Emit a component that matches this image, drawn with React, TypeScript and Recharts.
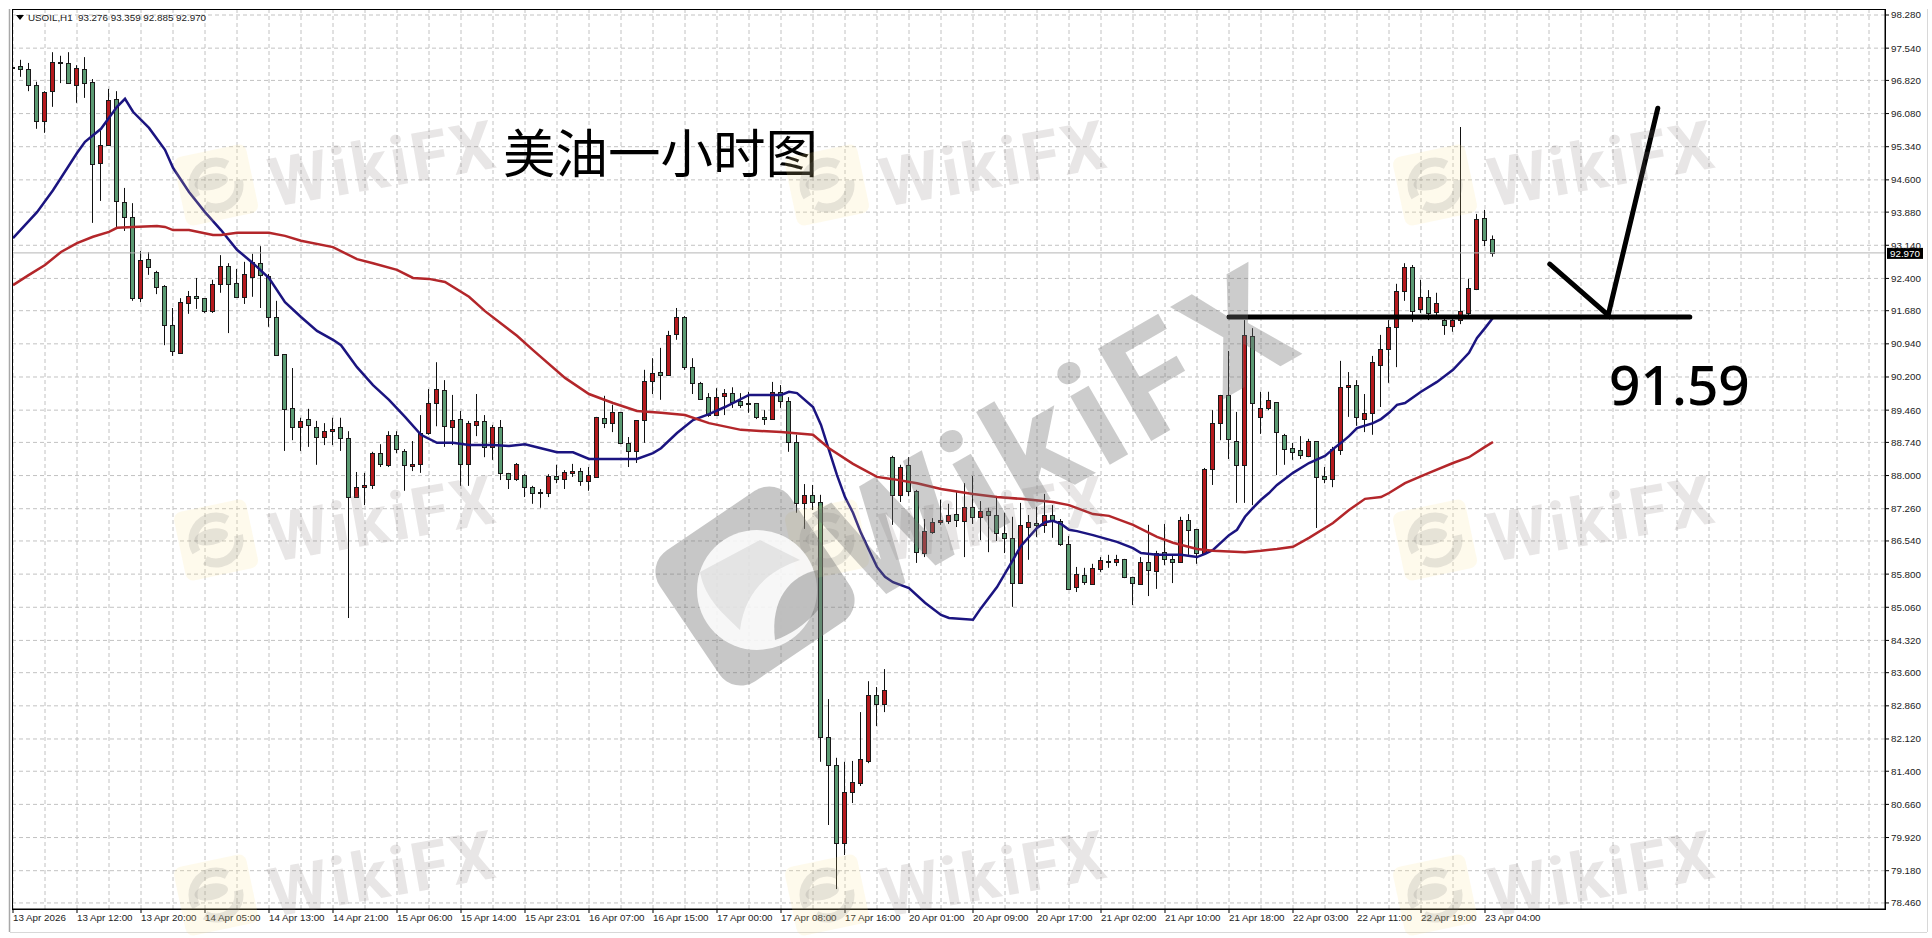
import { Bar, CartesianGrid, ComposedChart, Line, ReferenceLine, XAxis, YAxis } from "recharts";

const opens = [
  97.11,97.14,97.08,96.72,95.91,96.58,97.21,97.21,96.72,97.08,
  96.79,94.98,95.38,96.41,94.11,93.77,91.96,92.83,92.54,92.23,
  91.36,90.74,91.85,92.01,91.96,91.67,92.28,92.68,92.30,91.99,
  92.43,92.74,92.45,91.54,90.71,89.51,89.08,89.26,89.08,88.86,
  88.99,89.08,88.84,87.52,87.74,87.79,88.50,88.24,88.91,88.55,
  88.22,88.26,88.95,89.62,89.91,89.08,89.26,88.26,89.13,89.22,
  88.64,89.08,88.06,87.92,88.01,87.74,87.61,87.61,87.99,87.92,
  88.06,88.10,87.88,87.97,89.29,89.17,89.42,88.73,88.55,89.24,
  90.11,90.31,90.24,91.16,91.54,90.42,90.07,89.75,89.35,89.78,
  89.84,89.66,89.63,89.62,89.31,89.26,89.87,89.66,88.75,87.39,
  87.57,87.41,82.16,81.54,79.80,80.94,81.14,81.63,83.10,82.90,
  88.41,87.57,88.24,87.66,86.27,86.74,86.97,86.99,87.14,86.99,
  87.30,87.07,87.21,87.12,86.72,86.61,85.60,86.85,86.94,86.90,
  87.12,86.99,86.47,85.51,85.78,85.58,85.91,86.08,86.07,86.14,
  85.74,85.58,86.07,85.87,86.29,86.14,86.07,87.01,86.81,86.27,
  88.15,89.17,89.80,88.77,88.24,91.12,89.31,89.51,89.64,88.91,
  88.61,88.57,88.44,88.77,87.99,87.92,88.57,89.98,90.02,89.26,
  89.40,90.47,90.82,91.32,92.12,92.66,91.72,91.99,91.65,91.47,
  91.34,91.47,91.63,92.17,93.75,93.276,
];
const closes = [
  97.13,97.08,96.72,95.91,96.56,97.23,97.23,96.76,97.10,96.76,
  94.95,95.38,96.38,94.13,93.77,91.96,92.81,92.66,92.21,91.36,
  90.78,91.87,92.01,91.96,91.67,92.28,92.68,92.28,91.99,92.50,
  92.77,92.48,91.54,90.69,89.49,89.08,89.22,89.13,88.86,88.99,
  89.04,88.84,87.52,87.74,87.79,88.50,88.26,88.91,88.59,88.24,
  88.26,88.95,89.62,89.93,89.10,89.24,88.26,89.17,89.22,88.64,
  89.08,88.06,87.92,88.26,87.74,87.61,87.63,87.99,87.92,88.08,
  88.10,87.88,88.01,89.31,89.17,89.42,88.73,88.55,89.24,90.11,
  90.29,90.24,91.14,91.54,90.42,90.07,89.71,89.35,89.75,89.84,
  89.64,89.58,89.61,89.31,89.26,89.87,89.66,88.75,87.39,87.57,
  87.41,82.16,81.54,79.80,80.94,81.16,81.67,83.10,82.90,83.21,
  87.57,88.19,87.66,86.29,86.76,86.96,87.00,87.12,87.01,87.30,
  87.07,87.21,87.12,86.72,86.61,85.60,86.90,86.96,86.90,87.12,
  86.99,86.47,85.47,85.80,85.63,85.94,86.11,86.10,86.14,85.74,
  85.60,86.07,85.89,86.27,86.14,86.07,87.01,86.79,86.27,88.15,
  89.17,89.80,88.82,88.24,91.14,89.62,89.51,89.69,88.97,88.59,
  88.52,88.46,88.77,87.97,87.92,88.59,89.98,90.02,89.31,89.40,
  90.53,90.82,91.32,92.12,92.66,91.67,91.99,91.63,91.85,91.36,
  91.47,91.67,92.19,93.73,93.26,92.97,
];
const highs = [
  97.37,97.28,97.21,96.79,96.58,97.45,97.37,97.45,97.16,97.34,
  96.85,95.71,96.63,96.58,94.42,94.08,93.01,92.99,92.57,92.25,
  91.74,91.96,92.12,92.41,91.96,92.37,92.92,92.74,92.61,92.77,
  92.95,93.12,92.50,91.90,90.71,90.40,89.29,89.49,89.22,89.17,
  89.29,89.29,88.99,88.08,88.06,88.53,88.70,88.99,88.99,88.59,
  88.77,89.35,89.93,90.53,90.13,89.80,89.44,89.22,89.82,89.35,
  89.13,89.24,88.06,88.28,88.03,87.77,87.70,88.03,88.24,88.12,
  88.26,88.17,88.19,89.31,89.78,89.58,89.42,88.86,89.24,90.36,
  90.62,90.85,91.23,91.74,91.56,90.62,90.09,89.84,89.95,89.93,
  89.97,89.84,89.87,89.62,89.46,90.09,90.02,89.75,88.91,87.81,
  87.79,87.57,83.01,81.70,81.61,81.63,82.72,83.41,83.28,83.68,
  88.44,88.24,88.41,87.68,87.03,87.05,87.46,87.37,87.63,87.83,
  87.99,87.43,87.28,87.52,87.17,87.08,87.39,87.12,87.30,87.59,
  87.34,87.03,86.65,85.96,85.94,86.03,86.18,86.23,86.23,86.14,
  85.74,86.18,86.90,86.32,86.92,86.23,87.08,87.14,86.81,88.17,
  89.46,89.80,90.78,89.42,91.47,91.29,89.87,89.87,89.64,88.93,
  88.73,88.88,88.82,88.77,88.19,88.64,90.56,90.31,90.13,89.82,
  90.67,91.14,91.47,92.28,92.74,92.70,92.37,92.14,92.08,91.58,
  91.58,95.78,92.39,93.84,93.93,93.359,
];
const lows = [
  97.03,96.90,96.58,95.74,95.65,96.23,96.76,96.74,96.32,96.43,
  93.64,94.13,95.36,93.53,93.46,91.90,91.87,92.48,92.05,90.91,
  90.67,90.74,91.61,91.72,91.63,91.63,92.08,91.18,91.99,91.83,
  91.99,91.74,91.32,90.69,88.55,88.79,88.55,88.64,88.24,88.68,
  88.68,88.55,84.82,87.52,87.34,87.70,88.19,88.19,88.50,87.66,
  88.10,88.06,88.91,89.10,88.64,88.68,87.77,87.77,88.88,88.41,
  88.35,87.90,87.70,87.88,87.52,87.37,87.28,87.52,87.83,87.70,
  87.97,87.77,87.66,87.97,89.06,88.97,88.70,88.19,88.28,88.73,
  89.82,89.69,90.24,91.03,90.36,89.82,89.71,89.31,89.33,89.35,
  89.51,89.51,89.40,89.26,89.13,89.24,89.51,88.53,87.17,86.81,
  87.23,81.61,80.20,78.77,79.53,80.69,81.07,81.58,82.41,82.72,
  86.90,87.41,87.54,86.05,86.18,86.70,86.90,86.92,86.85,86.18,
  86.92,86.56,86.29,86.54,86.27,85.07,85.60,86.12,86.63,86.72,
  86.61,86.43,85.47,85.40,85.56,85.56,85.85,85.94,85.98,85.71,
  85.11,85.58,85.31,85.47,86.00,85.60,86.07,86.23,86.03,86.27,
  87.79,88.79,88.37,87.39,87.39,87.34,88.93,89.46,88.01,88.24,
  88.35,88.37,88.41,86.83,87.83,87.74,88.46,89.31,89.11,88.97,
  88.91,89.53,90.07,90.42,91.90,91.43,91.63,91.47,91.58,91.14,
  91.21,91.38,91.54,92.14,93.12,92.885,
];

const fastMaBars = [
  0,3,5,8,9,11,13,14,15,17,19,20,22,24,26,28,30,32,34,36,38,40,41,43,45,47,49,51,53,55,57,60,62,64,66,68,70,72,76,78,
  80,81,83,85,87,89,92,96,97,98,100,101,102,103,104,105,106,107,108,109,110,112,114,116,117,120,121,123,125,126,128,
  129,130,131,132,133,135,138,140,141,143,146,148,149,150,152,153,154,155,156,157,158,160,162,164,165,166,167,168,
  170,171,172,173,174,176,178,180,182,183,184,185,
];
const fastMaValues = [
  93.30,93.88,94.37,95.20,95.45,95.74,96.23,96.41,96.12,95.76,95.27,94.87,94.33,93.88,93.48,93.04,92.74,92.41,91.87,91.54,91.23,91.03,90.91,90.42,90.02,89.69,89.31,88.91,88.73,88.73,88.68,88.68,88.66,88.70,88.61,88.52,88.52,88.37,88.37,88.37,
  88.50,88.61,88.95,89.24,89.37,89.53,89.80,89.80,89.87,89.84,89.53,89.13,88.57,88.01,87.52,87.17,86.72,86.34,85.96,85.74,85.62,85.49,85.16,84.89,84.82,84.78,85.04,85.51,86.12,86.43,86.83,
  86.96,86.99,86.92,86.79,86.76,86.67,86.52,86.38,86.27,86.23,86.23,86.18,86.25,86.34,86.67,86.79,87.08,87.28,87.46,87.61,87.79,88.06,88.28,88.44,88.59,88.73,88.88,89.06,
  89.17,89.26,89.40,89.58,89.62,89.87,90.09,90.36,90.74,91.07,91.29,91.52,
];
const slowMaBars = [
  0,2,4,6,8,10,12,13,15,18,19,20,22,25,26,28,32,34,36,40,43,45,48,50,52,54,57,59,63,65,69,72,75,78,81,84,87,91,96,100,
  102,105,108,110,113,116,120,123,126,130,132,135,137,140,143,145,148,150,154,156,158,160,162,165,167,169,171,172,174,177,180,182,184,185,
];
const slowMaValues = [
  92.25,92.48,92.70,92.99,93.19,93.33,93.44,93.53,93.55,93.57,93.55,93.48,93.48,93.37,93.37,93.42,93.42,93.35,93.24,93.10,92.83,92.74,92.59,92.41,92.39,92.32,91.99,91.67,91.12,90.80,90.18,89.82,89.62,89.44,89.40,89.35,89.17,89.02,88.97,88.91,
  88.61,88.26,87.97,87.92,87.83,87.70,87.59,87.52,87.48,87.41,87.34,87.14,87.10,86.90,86.63,86.50,86.36,86.32,86.29,86.32,86.36,86.41,86.61,86.94,87.23,87.48,87.52,87.61,87.83,88.06,88.28,88.41,88.64,88.75,
];

const priceTicks = [
  98.28,97.54,96.82,96.08,95.34,94.6,93.88,93.14,92.4,91.68,90.94,90.2,89.46,88.74,
  88,87.26,86.54,85.8,85.06,84.32,83.6,82.86,82.12,81.4,80.66,79.92,79.18,78.46,
];
const timeLabels = [
  "13 Apr 2026","13 Apr 12:00","13 Apr 20:00","14 Apr 05:00","14 Apr 13:00","14 Apr 21:00",
  "15 Apr 06:00","15 Apr 14:00","15 Apr 23:01","16 Apr 07:00","16 Apr 15:00","17 Apr 00:00",
  "17 Apr 08:00","17 Apr 16:00","20 Apr 01:00","20 Apr 09:00","20 Apr 17:00","21 Apr 02:00",
  "21 Apr 10:00","21 Apr 18:00","22 Apr 03:00","22 Apr 11:00","22 Apr 19:00","23 Apr 04:00",
];
const lastPrice = 92.97;

// hand-drawn support level and the arrow on top of it
const levelBars = [152, 209.6];
const levelPrices = [91.54, 91.54];
const arrowBars = [192.1, 199.4, 205.6];
const arrowPrices = [92.72, 91.58, 96.2];

const candles = opens.map((open, i) => ({ bar: i, open, high: highs[i], low: lows[i], close: closes[i] }));
const pairs = (bars: number[], prices: number[]) => bars.map((bar, i) => ({ bar, price: prices[i] }));
const timeTicks = timeLabels.map((_, i) => i * 8);
const gridBars = Array.from({ length: 59 }, (_, i) => i * 4);

const FONT = '"Liberation Sans", Arial, sans-serif';
const UP = "#b5191d";
const DOWN = "#5a9a72";

const Candle = (props: any) => {
  const { x, y, width, height, payload } = props;
  const k = height / (payload.high - payload.low || 1);
  const at = (p: number) => y + (payload.high - p) * k;
  const cx = Math.floor(x + width / 2) + 0.5;
  const top = Math.round(at(Math.max(payload.open, payload.close))) + 0.5;
  const bottom = Math.round(at(Math.min(payload.open, payload.close))) + 0.5;
  return (
    <g>
      <line x1={cx} x2={cx} y1={y} y2={y + height} stroke="#111" strokeWidth={1} />
      <rect
        x={cx - 2}
        y={top}
        width={4}
        height={Math.max(bottom - top, 1)}
        fill={payload.close >= payload.open ? UP : DOWN}
        stroke="#1a1a1a"
        strokeWidth={1}
      />
    </g>
  );
};

const TimeTick = ({ x, y, payload }: any) => (
  <text x={x} y={y + 6} fontSize={9.8} fontFamily={FONT} fill="#222" textAnchor="start">
    {timeLabels[payload.value / 8]}
  </text>
);

const PriceTag = ({ viewBox }: any) => {
  const left = viewBox.x + viewBox.width + 2;
  return (
    <g>
      <rect x={left} y={viewBox.y - 5} width={36} height={11} fill="#000" />
      <text x={left + 3} y={viewBox.y + 4} fontSize={9.8} fontFamily={FONT} fill="#fff">
        92.970
      </text>
    </g>
  );
};

const SmallLogo = ({ x, y }: { x: number; y: number }) => (
  <g transform={`translate(${x} ${y}) rotate(-12)`}>
    <rect x={-37} y={-35} width={74} height={70} rx={8} fill="rgba(250,225,140,0.17)" />
    <circle r={23} fill="none" stroke="rgba(110,110,110,0.17)" strokeWidth={9} strokeDasharray="52 12 60 20" />
    <ellipse cx={-4} cy={-4} rx={17} ry={8} fill="rgba(110,110,110,0.17)" />
  </g>
);

const SmallMark = ({ x, y }: { x: number; y: number }) => (
  <g>
    <SmallLogo x={x} y={y} />
    <text
      transform={`translate(${x + 171} ${y + 2}) rotate(-10)`}
      textAnchor="middle"
      fontSize={68}
      fontWeight={700}
      letterSpacing={3}
      fontFamily="Roboto, sans-serif"
      fill="rgba(125,115,115,0.18)"
    >
      WikiFX
    </text>
  </g>
);

const Overlay = () => (
  <svg width={1932} height={938} style={{ position: "absolute", left: 0, top: 0, pointerEvents: "none" }}>
    {/* outer window lines and chart frame */}
    <line x1={9.5} x2={9.5} y1={9} y2={932} stroke="#a8a8a8" strokeWidth={1.5} />
    <line x1={10} x2={1927} y1={932.5} y2={932.5} stroke="#d8d8d8" />
    <line x1={1927.5} x2={1927.5} y1={9} y2={932} stroke="#d8d8d8" />
    <rect x={12.5} y={9.5} width={1873} height={900} fill="none" stroke="#000" />

    <path d="M16 15h8l-4 5z" fill="#000" />
    <text x={28} y={21} fontSize={9.8} fontFamily={FONT} fill="#222">USOIL,H1</text>
    <text x={78} y={21} fontSize={9.8} fontFamily={FONT} fill="#222">93.276 93.359 92.885 92.970</text>

    <text x={503} y={173} fontSize={52.5} fontFamily='"Noto Sans CJK SC", sans-serif' fill="#000">美油一小时图</text>
    <text x={1609} y={405} fontSize={55} fontWeight={500} fontFamily='"Noto Sans", sans-serif' fill="#000">91.59</text>

    {/* watermark */}
    {[185, 540, 895].map((y) =>
      [216, 827, 1435].map((x) => <SmallMark key={`${x}-${y}`} x={x} y={y} />)
    )}
    <g transform="translate(755 586) rotate(-34)">
      <rect x={-79} y={-79} width={158} height={158} rx={26} fill="rgba(115,115,115,0.4)" />
    </g>
    <circle cx={757} cy={590} r={60} fill="#fff" fillOpacity={0.85} />
    <path d="M700 572 L760 540 L800 560 C770 570 745 590 740 630 C725 615 705 600 700 572Z" fill="rgba(115,115,115,0.14)" />
    <path d="M775 640 C770 600 790 575 818 570 L818 610 C805 625 790 635 775 640Z" fill="rgba(115,115,115,0.42)" />
    <text
      transform="translate(1087 478) rotate(-30)"
      textAnchor="middle"
      fontSize={150}
      fontWeight={700}
      letterSpacing={8}
      fontFamily="Roboto, sans-serif"
      fill="rgba(115,115,115,0.36)"
    >
      WikiFX
    </text>
  </svg>
);

export default function App() {
  return (
    <div style={{ position: "absolute", left: 0, top: 0, width: 1932, height: 938, background: "#fff", overflow: "hidden" }}>
      <ComposedChart
        width={1932}
        height={938}
        data={candles}
        margin={{ top: 9, right: 5, bottom: 0, left: 12 }}
      >
        <CartesianGrid
          stroke="#c2c2c2"
          strokeDasharray="4 3"
          horizontalValues={priceTicks}
          verticalValues={gridBars}
        />
        <XAxis
          dataKey="bar"
          type="number"
          domain={[-0.125, 234]}
          allowDataOverflow
          ticks={timeTicks}
          interval={0}
          height={29}
          tickSize={4}
          tick={<TimeTick />}
          stroke="#000"
        />
        <YAxis
          orientation="right"
          type="number"
          domain={[78.325, 98.414]}
          allowDataOverflow
          ticks={priceTicks}
          interval={0}
          width={42}
          tickSize={4}
          tickMargin={2}
          tickFormatter={(v: number) => v.toFixed(3)}
          tick={{ fontSize: 9.8, fontFamily: FONT, fill: "#222" }}
          stroke="#000"
        />
        <ReferenceLine y={lastPrice} stroke="#b5b5b5" label={<PriceTag />} />
        <Line data={pairs(fastMaBars, fastMaValues)} dataKey="price" stroke="#1b1480" strokeWidth={2.5} dot={false} isAnimationActive={false} />
        <Line data={pairs(slowMaBars, slowMaValues)} dataKey="price" stroke="#b3262a" strokeWidth={2.5} dot={false} isAnimationActive={false} />
        <Bar dataKey={(d: any) => [d.low, d.high]} barSize={7} shape={<Candle />} isAnimationActive={false} />
        <Line data={pairs(levelBars, levelPrices)} dataKey="price" stroke="#000" strokeWidth={5} strokeLinecap="round" dot={false} isAnimationActive={false} />
        <Line data={pairs(arrowBars, arrowPrices)} dataKey="price" stroke="#000" strokeWidth={5} strokeLinecap="round" dot={false} isAnimationActive={false} />
      </ComposedChart>
      <Overlay />
    </div>
  );
}
